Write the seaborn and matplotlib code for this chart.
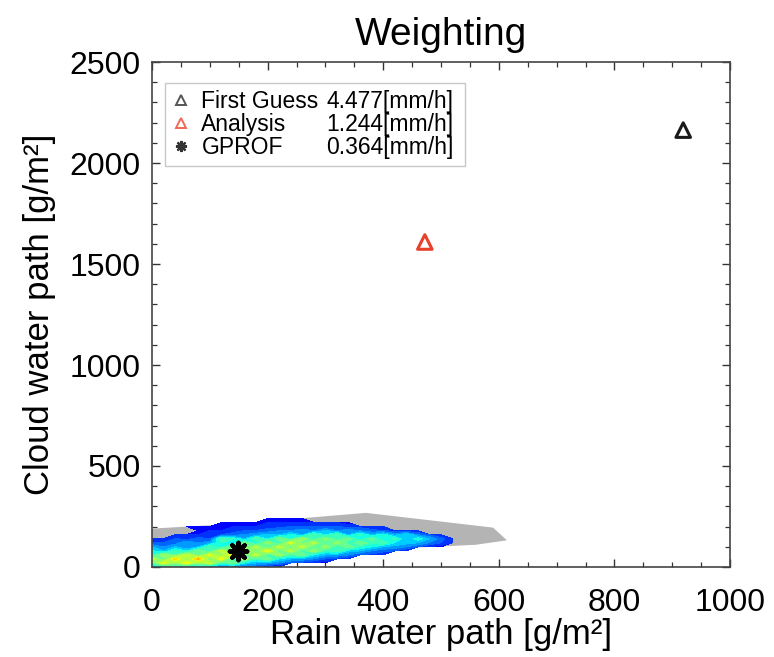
import matplotlib
matplotlib.use('Agg')
import matplotlib.pyplot as plt
from matplotlib.ticker import MultipleLocator
import numpy as np
import seaborn as sns

# point estimates (rain water path, cloud water path)
fg_rwp, fg_cwp = 919, 2163
an_rwp, an_cwp = 472, 1609
gp_rwp, gp_cwp = 149, 79

legend_names = ['First Guess', 'Analysis', 'GPROF']
legend_values = ['4.477[mm/h]', '1.244[mm/h]', '0.364[mm/h]']

# outline of the database region with low weights (grey)
hull_rwp = [0, 0, 150, 370, 590, 614, 560, 450, 300, 150, 0]
hull_cwp = [0, 190, 215, 268, 195, 132, 110, 95, 55, 15, 0]

# weighting field, rows = cloud water path, cols = rain water path
grid_rwp = [0, 20, 40, 60, 80, 100, 120, 140, 160, 180, 200, 220, 240, 260, 280, 300,
            320, 340, 360, 380, 400, 420, 440, 460, 480, 500, 520, 540]
grid_cwp = [0, 20, 40, 60, 80, 100, 120, 140, 160, 180, 200, 220, 240]
n = np.nan
weights_by_col = [
    [0.30, 0.45, 0.60, 0.40, 0.35, 0.30, 0.20, 0.18, n, n, 0.15, n, n],
    [0.35, 0.62, 0.45, 0.55, 0.30, 0.25, 0.20, 0.15, n, n, 0.15, n, n],
    [0.40, 0.50, 0.68, 0.45, 0.40, 0.30, 0.22, 0.20, 0.15, n, 0.15, n, n],
    [0.30, 0.65, 0.50, 0.60, 0.35, 0.25, 0.30, 0.18, 0.15, n, 0.15, n, n],
    [0.35, 0.50, 0.72, 0.45, 0.50, 0.30, 0.25, 0.22, 0.15, 0.15, 0.15, n, n],
    [0.30, 0.60, 0.45, 0.62, 0.40, 0.45, 0.28, 0.20, 0.18, 0.15, 0.15, n, n],
    [0.25, 0.40, 0.65, 0.50, 0.60, 0.35, 0.40, 0.45, 0.20, 0.15, 0.15, 0.12, n],
    [0.25, 0.50, 0.40, 0.68, 0.45, 0.55, 0.30, 0.40, 0.22, 0.18, 0.15, 0.12, n],
    [0.20, 0.35, 0.55, 0.45, 0.62, 0.40, 0.50, 0.30, 0.25, 0.20, 0.15, 0.12, n],
    [0.20, 0.30, 0.40, 0.60, 0.45, 0.58, 0.35, 0.45, 0.28, 0.20, 0.15, 0.12, n],
    [0.15, 0.28, 0.50, 0.40, 0.65, 0.40, 0.55, 0.35, 0.30, 0.22, 0.18, 0.15, 0.12],
    [0.12, 0.25, 0.35, 0.55, 0.45, 0.60, 0.38, 0.50, 0.30, 0.25, 0.18, 0.15, 0.12],
    [n, 0.20, 0.30, 0.42, 0.58, 0.45, 0.62, 0.40, 0.35, 0.25, 0.20, 0.15, 0.12],
    [n, 0.18, 0.28, 0.50, 0.40, 0.60, 0.45, 0.55, 0.30, 0.28, 0.20, 0.15, 0.12],
    [n, 0.15, 0.25, 0.35, 0.55, 0.42, 0.58, 0.40, 0.45, 0.25, 0.20, 0.15, n],
    [n, 0.12, 0.20, 0.30, 0.40, 0.55, 0.40, 0.52, 0.35, 0.30, 0.20, 0.15, n],
    [n, n, 0.18, 0.28, 0.45, 0.38, 0.55, 0.38, 0.45, 0.25, 0.20, 0.15, n],
    [n, n, 0.15, 0.25, 0.32, 0.50, 0.40, 0.50, 0.30, 0.28, 0.18, 0.12, n],
    [n, n, n, 0.20, 0.30, 0.40, 0.50, 0.35, 0.42, 0.25, 0.18, n, n],
    [n, n, n, 0.18, 0.25, 0.35, 0.42, 0.48, 0.30, 0.22, 0.15, n, n],
    [n, n, n, 0.15, 0.22, 0.30, 0.45, 0.35, 0.38, 0.20, 0.15, n, n],
    [n, n, n, n, 0.20, 0.28, 0.35, 0.42, 0.28, 0.18, n, n, n],
    [n, n, n, n, 0.15, 0.25, 0.32, 0.30, 0.35, 0.15, n, n, n],
    [n, n, n, n, n, 0.20, 0.30, 0.38, 0.25, 0.15, n, n, n],
    [n, n, n, n, n, 0.15, 0.25, 0.30, 0.20, n, n, n, n],
    [n, n, n, n, n, 0.12, 0.20, 0.22, 0.15, n, n, n, n],
    [n, n, n, n, n, n, 0.15, 0.15, n, n, n, n, n],
    [n, n, n, n, n, n, n, n, n, n, n, n, n],
]

sns.set_theme(style='ticks')
plt.rcParams['font.family'] = ['Liberation Sans', 'DejaVu Sans']
plt.rcParams['text.color'] = 'black'
plt.rcParams['axes.labelcolor'] = 'black'
plt.rcParams['xtick.color'] = 'black'
plt.rcParams['ytick.color'] = 'black'

fig = plt.figure(figsize=(7.74, 6.57), dpi=100)
ax = fig.add_axes([0.1964, 0.137, 0.7468, 0.7686])

ax.fill(hull_rwp, hull_cwp, color='#b4b4b4', lw=0, zorder=1)
W = np.array(weights_by_col).T
ax.contourf(grid_rwp, grid_cwp, W, levels=np.linspace(0.1, 1.0, 19),
            cmap='jet', vmin=0.0, vmax=1.0, zorder=2)

sns.scatterplot(x=[fg_rwp], y=[fg_cwp], marker='^', s=110, facecolor='none',
                edgecolor='#1a1a1a', linewidth=2.2, ax=ax, zorder=5)
sns.scatterplot(x=[an_rwp], y=[an_cwp], marker='^', s=110, facecolor='none',
                edgecolor='#e8402a', linewidth=2.2, ax=ax, zorder=5)
sns.scatterplot(x=[gp_rwp], y=[gp_cwp], marker=(8, 2, 0), s=160,
                color='black', edgecolor='black', linewidth=3, ax=ax, zorder=6)

ax.set_xlim(0, 1000)
ax.set_ylim(0, 2500)
ax.xaxis.set_major_locator(MultipleLocator(200))
ax.xaxis.set_minor_locator(MultipleLocator(50))
ax.yaxis.set_major_locator(MultipleLocator(500))
ax.yaxis.set_minor_locator(MultipleLocator(100))
ax.tick_params(which='both', direction='in', top=True, right=True, color='#333333')
ax.tick_params(which='major', length=6, width=1.0, labelsize=23)
ax.tick_params(axis='y', which='major', pad=8)
ax.tick_params(axis='x', which='major', pad=15)
ax.tick_params(which='minor', length=3.5, width=0.9)
for s in ax.spines.values():
    s.set_color('#444444')
    s.set_linewidth(1.2)

ax.set_title('Weighting', fontsize=28, pad=12)
ax.set_xlabel('Rain water path [g/m²]', fontsize=25, labelpad=0)
ax.set_ylabel('Cloud water path [g/m²]', fontsize=25, labelpad=10)

# legend
handles = [
    plt.Line2D([], [], ls='none', marker='^', ms=7, mfc='none', mec='#555555', mew=1.4),
    plt.Line2D([], [], ls='none', marker='^', ms=7, mfc='none', mec='#f06a55', mew=1.4),
    plt.Line2D([], [], ls='none', marker=(8, 2, 0), ms=8, color='#333333', mew=1.6),
]
leg = ax.legend(handles, legend_names, loc='upper left', mode='expand',
                bbox_to_anchor=(0.022, 0.958, 0.52, 0.0), fontsize=16.5,
                frameon=True, fancybox=False, edgecolor='#bbbbbb',
                handlelength=0.8, handletextpad=0.5, labelspacing=0.0,
                borderpad=0.3, borderaxespad=0.0)
leg.get_frame().set_linewidth(1.0)
leg.set_zorder(10)
fig.canvas.draw()
for txt, val in zip(leg.get_texts(), legend_values):
    bb = txt.get_window_extent().transformed(ax.transAxes.inverted())
    ax.text(0.522, (bb.y0 + bb.y1) / 2, val, transform=ax.transAxes,
            ha='right', va='center', fontsize=16.5, zorder=11)

fig.savefig('out.png', dpi=100)
